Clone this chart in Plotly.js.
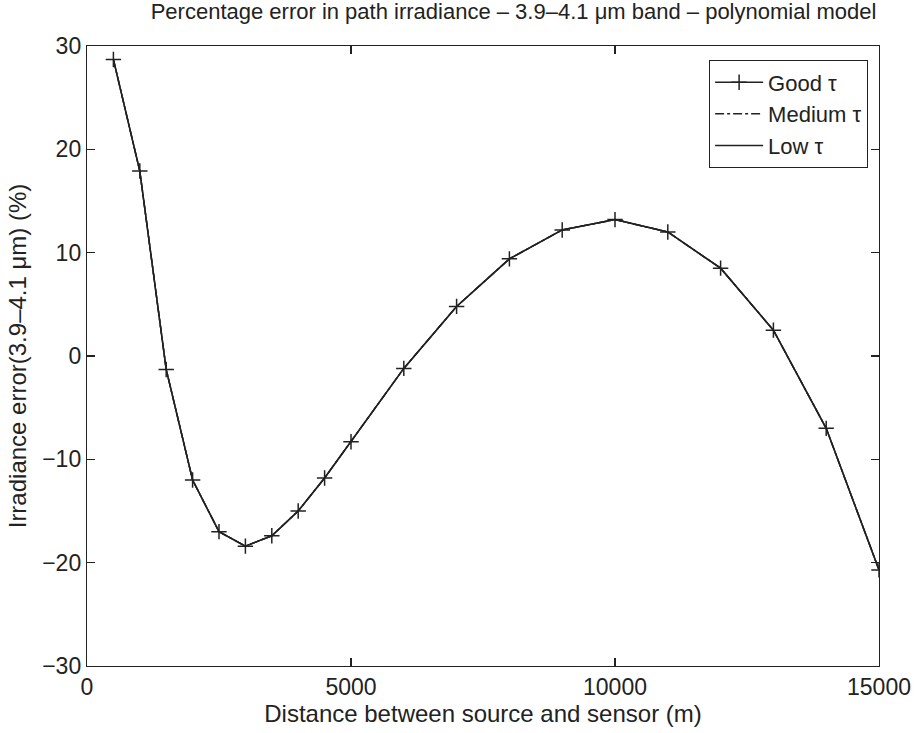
<!DOCTYPE html>
<html>
<head>
<meta charset="utf-8">
<script src="https://cdn.plot.ly/plotly-3.0.1.min.js"></script>
<style>html,body{margin:0;padding:0;background:#fff;}#chart{width:917px;height:733px;}</style>
</head>
<body>
<div id="chart"></div>
<script>
var distance = [500, 1000, 1500, 2000, 2500, 3000, 3500, 4000, 4500, 5000, 6000, 7000, 8000, 9000, 10000, 11000, 12000, 13000, 14000, 15000];
var goodTau = [28.7, 17.9, -1.3, -12.0, -17.0, -18.4, -17.4, -15.0, -11.8, -8.3, -1.2, 4.8, 9.4, 12.2, 13.2, 12.0, 8.5, 2.5, -7.0, -20.7];
var mediumTau = [28.7, 17.9, -1.3, -12.0, -17.0, -18.4, -17.4, -15.0, -11.8, -8.3, -1.2, 4.8, 9.4, 12.2, 13.2, 12.0, 8.5, 2.5, -7.0, -20.7];
var lowTau = [28.7, 17.9, -1.3, -12.0, -17.0, -18.4, -17.4, -15.0, -11.8, -8.3, -1.2, 4.8, 9.4, 12.2, 13.2, 12.0, 8.5, 2.5, -7.0, -20.7];
var seriesNames = ['Good τ', 'Medium τ', 'Low τ'];
var xTicks = [0, 5000, 10000, 15000];
var yTicks = [-30, -20, -10, 0, 10, 20, 30];

var ink = '#222';
var fam = 'Liberation Sans, Arial, Helvetica, sans-serif';
var traces = [
  {x: distance, y: lowTau, name: seriesNames[2], mode: 'lines', line: {color: ink, width: 1.5}},
  {x: distance, y: mediumTau, name: seriesNames[1], mode: 'lines', line: {color: ink, width: 1.5, dash: 'dashdot'}},
  {x: distance, y: goodTau, name: seriesNames[0], mode: 'lines+markers', line: {color: ink, width: 1.5},
   marker: {symbol: 'cross-thin', size: 11, line: {color: ink, width: 1.5}}}
];

var axisCommon = {
  showline: true, linecolor: ink, linewidth: 1.2, mirror: 'ticks',
  ticks: 'inside', ticklen: 8, tickcolor: ink, tickwidth: 1.2,
  showgrid: false, zeroline: false,
  tickfont: {family: fam, size: 23, color: ink}
};

var layout = {
  width: 917, height: 733,
  margin: {l: 87, r: 38, t: 46, b: 67},
  paper_bgcolor: '#fff', plot_bgcolor: '#fff',
  font: {family: fam, color: ink},
  title: {text: 'Percentage error in path irradiance – 3.9–4.1 μm band – polynomial model',
          font: {size: 22, color: ink}, x: 0.56, xanchor: 'center', y: 0.995, yanchor: 'top'},
  xaxis: Object.assign({}, axisCommon, {
    range: [0, 15000], tickvals: xTicks, ticktext: xTicks.map(String),
    title: {text: 'Distance between source and sensor (m)', font: {size: 24, color: ink}, standoff: 4}
  }),
  yaxis: Object.assign({}, axisCommon, {
    range: [-30, 30], tickvals: yTicks, ticktext: yTicks.map(function(v){return v < 0 ? '−' + Math.abs(v) : String(v);}),
    title: {text: 'Irradiance error(3.9–4.1 μm) (%)', font: {size: 24, color: ink}, standoff: 8}
  }),
  legend: {x: 0.986, xanchor: 'right', y: 0.977, yanchor: 'top', bordercolor: ink, borderwidth: 1.2,
           bgcolor: '#fff', font: {size: 22, color: ink}, traceorder: 'reversed', tracegroupgap: 0,
           itemwidth: 48},
  showlegend: true
};

Plotly.newPlot('chart', traces, layout, {displayModeBar: false, staticPlot: true});
</script>
</body>
</html>
